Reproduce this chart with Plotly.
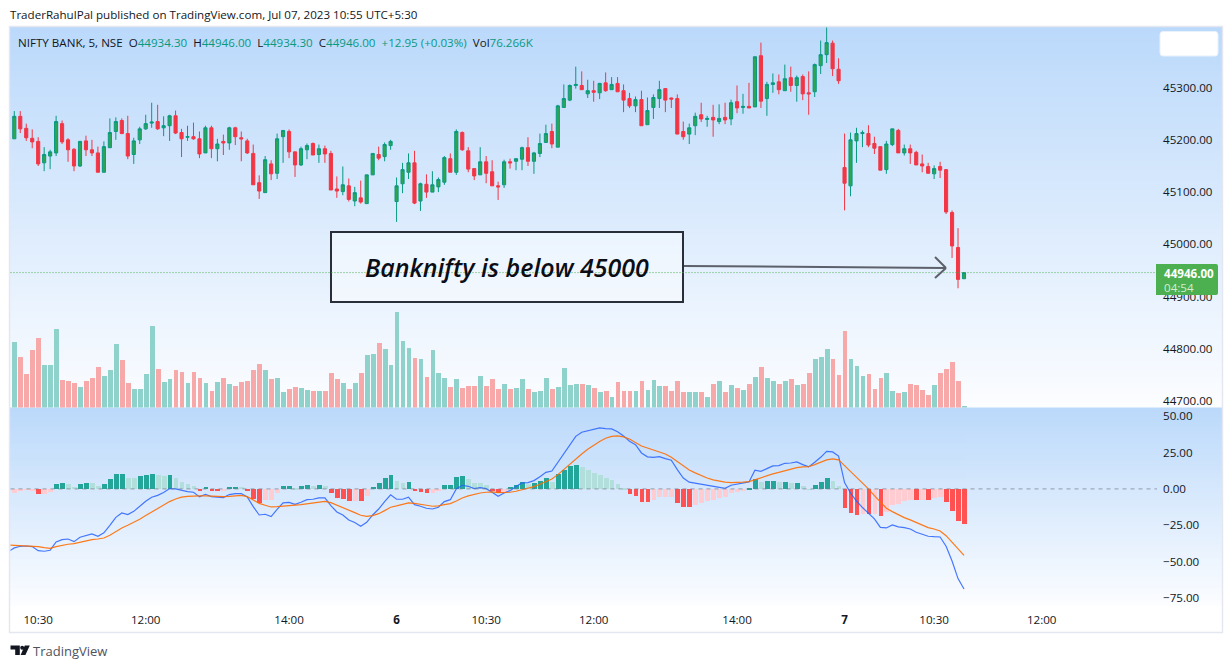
import plotly.graph_objects as go

# ---- data (bar index -1 is the partly hidden bar at the left edge) ----
bar_index = list(range(-1, 160))
direction = ("R"
    "GRRRRGGGRR" "RGRRRGGGRR" "GGGGRGGRRG" "RRGRGRGRRR"
    "RRGRGGRRGG" "RGRRRGRGRG" "GRGGGGGRGR" "GGGRGRRRGR"
    "RRGRGGRGGG" "RGGGGRGRGR" "GRRRGRGGGR" "RRRGGRGRGR"
    "GRGRGRGGRG" "RGRRGGGRRR" "GGGRRRGGRG" "RRRRGRRRRG")
high = [45204,
    45255,45255,45231,45220,45205,45186,45181,45246,45237,45203,
    45184,45198,45208,45200,45187,45197,45241,45243,45241,45246,
    45204,45225,45248,45271,45267,45245,45248,45256,45221,45227,
    45233,45216,45227,45227,45202,45210,45225,45225,45216,45202,
    45191,45132,45169,45161,45212,45218,45220,45177,45187,45193,
    45195,45191,45189,45179,45130,45149,45126,45110,45122,45133,
    45174,45187,45195,45200,45128,45156,45174,45179,45118,45134,
    45140,45128,45169,45174,45220,45216,45186,45145,45186,45169,
    45161,45120,45162,45164,45164,45187,45205,45177,45212,45229,
    45231,45267,45306,45306,45340,45331,45315,45313,45309,45329,
    45320,45320,45306,45290,45283,45294,45281,45287,45313,45298,
    45281,45287,45235,45231,45252,45271,45246,45267,45268,45271,
    45277,45304,45288,45309,45359,45386,45311,45327,45325,45344,
    45340,45323,45325,45331,45346,45390,45415,45390,45356,45212,
    45214,45223,45218,45228,45206,45187,45198,45221,45221,45191,
    45191,45179,45172,45156,45151,45158,45144,45065,45031,44946]
body_high = [45204,
    45245,45245,45222,45203,45197,45172,45177,45235,45231,45200,
    45182,45197,45198,45181,45175,45187,45214,45235,45237,45212,
    45198,45221,45231,45234,45235,45227,45246,45246,45214,45206,
    45206,45202,45223,45223,45192,45197,45223,45223,45204,45198,
    45174,45118,45162,45154,45202,45218,45216,45177,45183,45189,
    45193,45183,45183,45174,45106,45114,45112,45099,45089,45133,
    45174,45172,45191,45197,45112,45143,45156,45156,45116,45115,
    45114,45124,45166,45164,45216,45214,45179,45145,45158,45158,
    45139,45112,45158,45158,45164,45185,45185,45175,45193,45212,
    45216,45265,45279,45304,45306,45304,45294,45294,45308,45309,
    45306,45308,45294,45279,45277,45277,45256,45281,45296,45298,
    45280,45279,45216,45223,45245,45248,45241,45243,45241,45243,
    45271,45273,45264,45264,45359,45361,45306,45309,45311,45317,
    45319,45319,45321,45290,45344,45363,45386,45385,45335,45147,
    45200,45212,45214,45212,45193,45187,45192,45221,45218,45183,
    45183,45176,45154,45149,45145,45149,45143,45061,44994,44946]
body_low = [45202,
    45202,45221,45204,45196,45154,45156,45169,45175,45196,45181,
    45150,45150,45181,45175,45138,45138,45185,45216,45212,45169,
    45172,45200,45221,45232,45221,45223,45227,45213,45202,45205,
    45202,45173,45175,45183,45183,45194,45194,45206,45202,45175,
    45114,45102,45099,45135,45136,45206,45177,45152,45152,45181,
    45171,45172,45173,45104,45102,45101,45086,45083,45081,45078,
    45133,45165,45168,45189,45082,45116,45138,45079,45083,45100,
    45100,45110,45119,45138,45138,45181,45144,45131,45133,45136,
    45112,45110,45114,45156,45159,45163,45159,45159,45174,45195,
    45192,45186,45262,45276,45304,45296,45288,45291,45290,45294,
    45296,45292,45276,45265,45265,45227,45229,45262,45279,45276,
    45278,45211,45206,45211,45227,45240,45239,45238,45235,45238,
    45240,45261,45262,45261,45263,45274,45279,45306,45296,45294,
    45304,45304,45288,45288,45292,45342,45363,45336,45313,45117,
    45112,45198,45212,45190,45184,45142,45143,45191,45175,45175,
    45175,45152,45150,45136,45135,45142,45062,44997,44933,44934]
low = [45198,
    45202,45213,45198,45184,45150,45140,45144,45169,45192,45158,
    45140,45148,45169,45169,45138,45138,45185,45200,45211,45163,
    45154,45192,45219,45223,45219,45207,45198,45211,45167,45198,
    45200,45165,45175,45165,45159,45171,45181,45190,45159,45173,
    45114,45087,45099,45123,45125,45156,45165,45129,45150,45163,
    45171,45156,45156,45104,45089,45094,45082,45073,45078,45078,
    45133,45161,45159,45181,45043,45098,45125,45077,45064,45089,
    45100,45100,45114,45138,45133,45179,45138,45123,45133,45117,
    45112,45085,45108,45145,45142,45142,45150,45135,45167,45195,
    45184,45186,45262,45274,45298,45296,45280,45273,45278,45292,
    45296,45292,45253,45261,45253,45227,45229,45240,45261,45253,
    45261,45211,45200,45192,45209,45234,45225,45206,45230,45230,
    45228,45251,45250,45261,45263,45261,45246,45290,45287,45294,
    45292,45273,45276,45248,45282,45326,45347,45322,45307,45065,
    45092,45156,45186,45186,45173,45142,45135,45188,45175,45170,
    45154,45152,45138,45136,45125,45127,45058,44974,44916,44934]
volume_k = [1829,
    2477,1905,1257,2172,2629,1600,1600,2972,1029,991,
    914,762,991,1105,1524,1181,1410,2400,1791,914,
    686,686,1257,3086,1448,953,1067,1410,1334,914,
    1334,1105,914,610,953,1105,876,800,953,991,
    1410,1638,1410,1067,1105,572,686,762,724,648,
    610,610,610,1295,1067,914,686,914,1295,1981,
    2019,2438,2210,1600,3620,2515,2248,1867,1829,1143,
    2172,1295,1105,762,1067,724,800,800,1181,800,
    1067,686,876,686,724,1067,686,572,610,1105,
    686,762,1486,838,876,876,838,724,572,610,
    381,953,610,610,610,991,648,1029,800,800,
    610,991,572,572,572,572,381,876,991,572,
    838,724,648,876,1143,1524,1105,991,876,991,
    1067,838,876,1295,1829,1905,2210,1829,1219,2896,
    1829,1562,1181,1257,686,1105,1295,610,533,572,
    876,838,648,457,838,1295,1448,1715,991,76]
macd_hist = [-5.7,
    -2.5,-1.1,-0.2,-0.5,-3.2,-3.2,-1.8,3.7,4.3,3.7,
    1.6,3.7,4.3,4.3,2.3,3.7,7.1,10.5,10.5,7.8,
    7.8,9.2,9.8,10.5,9.8,9.2,9.8,7.8,5.0,3.7,
    2.3,-1.1,1.6,-1.1,-1.1,-0.5,1.6,1.6,1.6,-1.1,
    -6.4,-9.2,-7.3,-7.3,-2.5,2.3,2.3,0.9,2.3,3.0,
    2.3,3.0,2.3,-2.5,-6.0,-6.4,-7.8,-7.8,-7.8,-4.6,
    1.6,4.3,7.8,9.8,5.7,4.3,5.0,-1.1,-1.8,-2.5,
    -2.5,-1.1,3.0,3.0,8.5,9.2,7.1,4.3,4.3,3.0,
    -1.1,-2.5,-1.8,1.6,3.0,5.0,3.7,4.3,5.7,7.8,
    5.0,10.5,13.3,16.0,16.7,15.3,13.3,11.2,9.8,7.8,
    6.4,3.7,0.9,-3.2,-4.6,-8.7,-8.7,-7.3,-5.3,-5.3,
    -5.3,-9.4,-12.1,-12.1,-10.8,-9.4,-8.0,-7.3,-6.0,-5.3,
    -2.5,-1.8,-0.5,0.5,7.1,5.0,5.7,5.7,5.0,5.0,
    4.3,4.3,2.3,0.2,3.0,5.0,7.8,5.7,2.3,-12.8,
    -16.3,-17.6,-16.9,-16.9,-16.9,-18.3,-15.6,-10.8,-10.1,-8.0,
    -7.3,-7.3,-7.3,-7.3,-6.0,-5.3,-8.7,-14.9,-21.7,-23.8]
hist_pale_bars = [-1,0,1,2,3,5,6,9,10,13,14,19,20,24,25,27,28,29,30,35,38,42,43,44,47,50,52,57,59,
    64,65,70,71,76,77,78,79,82,86,90,95,96,97,98,99,100,101,102,107,108,109,110,
    114,115,116,117,118,119,120,121,122,125,128,130,132,133,137,138,142,144,
    146,147,148,149,150,152,154,155]
macd_line = [-43.1,
    -40.5,-39.4,-39.2,-39.6,-42.4,-42.8,-42.1,-36.4,-34.8,-34.4,
    -36.2,-33.2,-31.8,-30.9,-32.5,-30.2,-25.0,-19.5,-16.5,-17.6,
    -15.4,-11.7,-8.5,-5.7,-4.4,-2.5,0.2,0.0,-1.2,-1.9,
    -2.3,-5.5,-3.7,-5.3,-5.7,-6.0,-3.9,-3.2,-3.2,-5.5,
    -12.2,-17.9,-17.4,-19.0,-14.0,-9.6,-9.2,-10.6,-9.2,-7.4,
    -7.1,-6.2,-6.2,-11.5,-15.8,-17.9,-21.3,-23.1,-25.7,-22.9,
    -17.9,-13.8,-8.7,-4.1,-7.1,-7.1,-5.7,-10.8,-11.9,-13.3,
    -13.8,-12.6,-8.7,-7.4,0.0,2.5,1.8,0.2,0.9,0.2,
    -2.3,-5.1,-2.8,-1.2,1.6,4.1,4.3,5.7,8.4,11.4,
    12.3,18.3,24.5,30.9,36.1,38.9,40.0,40.7,41.9,41.4,
    41.2,39.3,36.4,32.7,30.4,24.7,22.0,21.7,22.2,20.8,
    19.7,13.2,7.5,4.6,3.9,3.0,2.0,1.3,0.9,0.4,
    2.5,3.4,4.1,4.8,12.8,12.1,13.9,15.8,16.0,17.6,
    17.8,18.5,16.7,15.1,18.3,21.7,25.8,25.4,22.6,4.3,
    -2.8,-8.3,-12.8,-17.0,-20.6,-26.4,-26.8,-24.7,-26.1,-26.6,
    -27.5,-29.8,-31.2,-32.5,-32.8,-33.0,-39.4,-49.5,-61.6,-68.7]
signal_line = [-38.5,
    -38.7,-39.0,-39.0,-39.2,-39.6,-40.3,-40.8,-39.6,-38.7,-38.0,
    -37.6,-36.6,-35.7,-34.8,-34.4,-33.7,-31.8,-29.3,-26.8,-25.0,
    -23.1,-20.9,-18.3,-15.8,-13.3,-11.0,-8.7,-6.9,-5.7,-5.1,
    -4.8,-4.8,-4.8,-5.1,-5.3,-5.3,-5.1,-4.8,-4.4,-5.3,
    -7.6,-9.9,-11.2,-12.4,-12.2,-11.7,-11.5,-11.2,-10.8,-10.1,
    -9.6,-9.2,-8.5,-9.4,-11.0,-12.6,-14.4,-16.3,-18.1,-18.8,
    -18.3,-17.0,-14.9,-12.6,-11.7,-10.6,-9.6,-9.9,-10.3,-11.2,
    -11.9,-11.7,-10.8,-10.1,-8.3,-6.2,-4.8,-3.7,-2.8,-2.3,
    -2.1,-2.5,-2.5,-2.3,-1.6,-0.7,0.4,1.6,3.2,5.2,
    6.8,9.8,13.5,17.1,20.6,24.0,27.2,30.0,32.5,34.8,
    36.1,36.4,35.7,34.3,32.0,29.5,28.1,26.8,25.6,24.0,
    21.7,19.0,15.8,13.0,11.0,9.1,7.5,6.2,5.2,4.6,
    4.3,4.3,4.6,5.0,6.4,7.5,8.9,10.3,11.4,12.6,
    13.5,14.6,15.1,15.3,16.7,18.3,19.9,20.6,19.9,16.0,
    12.1,8.0,3.6,0.0,-4.6,-9.2,-13.3,-15.6,-17.9,-19.7,
    -21.3,-23.1,-24.7,-26.6,-27.5,-28.9,-32.1,-36.7,-41.0,-45.6]
time_tick_bars = [4, 22, 46, 64, 79, 97, 121, 139, 154, 172]
time_tick_text = ["10:30", "12:00", "14:00", "<b>6</b>", "10:30", "12:00", "14:00", "<b>7</b>", "10:30", "12:00"]
price_ticks = [44700, 44800, 44900, 45000, 45100, 45200, 45300]
macd_ticks = [-75, -50, -25, 0, 25, 50]
last_price = 44946

# ---- page geometry, in pixels ----
W, H = 1232, 668
FONT = "Open Sans"
FS = 11.6
def px(x): return x / W
def py(y): return 1 - y / H
PANE_L, PANE_R, FULL_R = 10.5, 1157, 1222
MAIN_T, MAIN_B, SUB_T, SUB_B, FRAME_B = 27, 407.5, 407.5, 606, 632.5
BAR0_X, BAR_STEP = 14.3, 5.973
x_range = [(PANE_L - BAR0_X) / BAR_STEP, (PANE_R - BAR0_X) / BAR_STEP]

opens = [bl if d == "G" else bh for d, bl, bh in zip(direction, body_low, body_high)]
closes = [bh if d == "G" else bl for d, bl, bh in zip(direction, body_low, body_high)]
opens[-1], closes[-1] = 44934.30, 44946.00

fig = go.Figure()
fig.add_trace(go.Candlestick(
    x=bar_index, open=opens, high=high, low=low, close=closes, xaxis="x", yaxis="y",
    increasing=dict(line=dict(color="#089981", width=1), fillcolor="#2fa551"),
    decreasing=dict(line=dict(color="#f23645", width=1), fillcolor="#f23645"),
    whiskerwidth=0, showlegend=False, hoverinfo="skip"))
fig.add_trace(go.Bar(
    x=bar_index, y=volume_k, xaxis="x", yaxis="y3", width=0.8,
    marker=dict(color=["#8fd2cb" if d == "G" else "#f7a8a8" for d in direction], line_width=0),
    showlegend=False, hoverinfo="skip"))
pale = set(hist_pale_bars)
def hist_colour(i, v):
    if v >= 0:
        return "#b2dfdb" if i in pale else "#26a69a"
    return "#ffcdd2" if i in pale else "#ff5252"
fig.add_trace(go.Bar(
    x=bar_index, y=macd_hist, xaxis="x2", yaxis="y2", width=0.8,
    marker=dict(color=[hist_colour(i, v) for i, v in zip(bar_index, macd_hist)], line_width=0),
    showlegend=False, hoverinfo="skip"))
fig.add_trace(go.Scatter(x=bar_index, y=macd_line, mode="lines", xaxis="x2", yaxis="y2",
    line=dict(color="#2962ff", width=1.2), opacity=0.85, showlegend=False, hoverinfo="skip"))
fig.add_trace(go.Scatter(x=bar_index, y=signal_line, mode="lines", xaxis="x2", yaxis="y2",
    line=dict(color="#ff6d00", width=1.2), opacity=0.9, showlegend=False, hoverinfo="skip"))

# ---- background and decorations ----
shapes = []
def lerp(a, b, t): return tuple(round(p + (q - p) * t) for p, q in zip(a, b))
TOP_C, BOT_C = (187, 217, 251), (252, 253, 255)
def gradient(top, bottom, step=2):
    y = top
    while y < bottom:
        c = lerp(TOP_C, BOT_C, (y - top) / (bottom - top))
        shapes.append(dict(type="rect", xref="paper", yref="paper", layer="below",
                           x0=px(PANE_L - 0.5), x1=px(FULL_R), y0=py(min(y + step + 0.5, bottom)), y1=py(y),
                           fillcolor=f"rgb{c}", line_width=0))
        y += step
gradient(MAIN_T, MAIN_B)
gradient(SUB_T, SUB_B)
shapes.append(dict(type="rect", xref="paper", yref="paper", layer="below",
                   x0=px(9.5), x1=px(FULL_R + 0.5), y0=py(FRAME_B), y1=py(26.5),
                   line=dict(color="#e4e7ef", width=1.4)))
# text box, then the price line that runs across it
shapes.append(dict(type="rect", xref="paper", yref="paper", x0=px(331), x1=px(683), y0=py(302), y1=py(232),
                   fillcolor="rgba(255,255,255,0.42)", line=dict(color="#2a2e39", width=2), layer="above"))
shapes.append(dict(type="line", xref="paper", yref="y", x0=px(PANE_L), x1=px(PANE_R), y0=last_price, y1=last_price,
                   line=dict(color="#4caf50", width=1, dash="1px,2px"), layer="above"))
shapes.append(dict(type="line", xref="paper", yref="y2", x0=px(PANE_L), x1=px(PANE_R), y0=0, y1=0,
                   line=dict(color="rgba(120,123,134,0.7)", width=1, dash="4px,4px"), layer="above"))
def rounded(x0, y0, x1, y1, r, left=True):
    rl = r if left else 0
    return (f"M {px(x0+rl)} {py(y0)} L {px(x1-r)} {py(y0)} Q {px(x1)} {py(y0)} {px(x1)} {py(y0+r)} "
            f"L {px(x1)} {py(y1-r)} Q {px(x1)} {py(y1)} {px(x1-r)} {py(y1)} L {px(x0+rl)} {py(y1)} "
            + (f"Q {px(x0)} {py(y1)} {px(x0)} {py(y1-r)} L {px(x0)} {py(y0+r)} Q {px(x0)} {py(y0)} {px(x0+r)} {py(y0)} " if left
               else f"L {px(x0)} {py(y1)} L {px(x0)} {py(y0)} ") + "Z")
shapes.append(dict(type="path", xref="paper", yref="paper", path=rounded(1160, 31.5, 1218, 56, 3),
                   fillcolor="#ffffff", line=dict(color="#e9f1fb", width=1), layer="above"))
shapes.append(dict(type="path", xref="paper", yref="paper", path=rounded(1156, 264, 1218, 295, 2, left=False),
                   fillcolor="#4caf50", line_width=0, layer="above"))
ARROW = "#5d606b"
for (a, b, c, d) in [(684, 266, 946, 268), (935, 257, 946, 268), (935, 278, 946, 268)]:
    shapes.append(dict(type="line", xref="paper", yref="paper", x0=px(a), y0=py(b), x1=px(c), y1=py(d),
                       line=dict(color=ARROW, width=2), layer="above"))
# TradingView logo
def poly(points): return "M " + " L ".join(f"{px(x)} {py(y)}" for x, y in points) + " Z"
LOGO = "#131722"
for pts in ([(10.5, 645.5), (19.8, 645.5), (19.8, 655), (15.2, 655), (15.2, 649.5), (10.5, 649.5)],
            [(24.8, 645.5), (29.8, 645.5), (25.4, 655), (20.6, 655)]):
    shapes.append(dict(type="path", xref="paper", yref="paper", path=poly(pts), fillcolor=LOGO, line_width=0, layer="above"))
shapes.append(dict(type="circle", xref="paper", yref="paper", x0=px(20.2), x1=px(24.2), y0=py(649.7), y1=py(645.7),
                   fillcolor=LOGO, line_width=0, layer="above"))

# ---- texts ----
TEAL = "#089981"
def val(s): return f'<span style="color:{TEAL}">{s}</span>'
legend_text = ("NIFTY BANK, 5, NSE  O" + val("44934.30") + "  H" + val("44946.00") + "  L" + val("44934.30") +
               "  C" + val("44946.00") + "  " + val("+12.95 (+0.03%)") + "  Vol" + val("76.266K"))
def note(x, y, text, size=FS, color="#131722", anchor="left", family=FONT, **fontkw):
    return dict(xref="paper", yref="paper", x=px(x), y=py(y), text=text, showarrow=False, xanchor=anchor, yanchor="middle",
                font=dict(family=family, size=size, color=color, **fontkw), borderpad=0, borderwidth=0)
annotations = [
    note(10, 14, "TraderRahulPal published on TradingView.com, Jul 07, 2023 10:55 UTC+5:30"),
    note(18, 42, legend_text),
    note(33, 650.5, "TradingView", size=13, color="#50535e"),
    note(507, 266.5, "Banknifty is below 45000", size=25, anchor="center", color="#0b0e14", style="italic", weight=600),
    note(1164, 273, "<b>44946.00</b>", color="#ffffff"),
    note(1164, 287, "04:54", color="#d3edd5"),
]

axis_font = dict(family=FONT, size=FS, color="#131722")
fig.update_layout(
    width=W, height=H, autosize=False, margin=dict(l=0, r=0, t=0, b=0, pad=0),
    paper_bgcolor="#ffffff", plot_bgcolor="rgba(0,0,0,0)", barmode="overlay", bargap=0, boxgap=0.25,
    showlegend=False, shapes=shapes, annotations=annotations, font=dict(family=FONT),
    xaxis=dict(domain=[px(PANE_L), px(PANE_R)], range=x_range, anchor="y", showgrid=False, zeroline=False,
               showticklabels=False, ticks="", rangeslider=dict(visible=False), showline=False),
    xaxis2=dict(domain=[px(PANE_L), px(PANE_R)], range=x_range, anchor="y2", showgrid=False, zeroline=False,
                tickmode="array", tickvals=time_tick_bars, ticktext=time_tick_text, ticks="",
                tickfont=axis_font, showline=False, ticklabelstandoff=5),
    yaxis=dict(domain=[py(MAIN_B), py(MAIN_T)], range=[44687.9, 45415.9], side="right", anchor="x",
               showgrid=False, zeroline=False, tickmode="array", tickvals=price_ticks,
               ticktext=[f"{v:.2f}" for v in price_ticks], ticks="", tickfont=axis_font, ticklabelstandoff=5),
    yaxis3=dict(domain=[py(MAIN_B), py(MAIN_T)], range=[0, 14478], overlaying="y", side="left", anchor="x",
                showgrid=False, zeroline=False, showticklabels=False, ticks=""),
    yaxis2=dict(domain=[py(SUB_B), py(SUB_T)], range=[-80.4, 55.9], side="right", anchor="x2",
                showgrid=False, zeroline=False, tickmode="array", tickvals=macd_ticks,
                ticktext=[("\u2212" + f"{abs(v):.2f}") if v < 0 else f"{v:.2f}" for v in macd_ticks],
                ticks="", tickfont=axis_font, ticklabelstandoff=5),
)

fig.write_html("out.html", config=dict(displayModeBar=False),
               post_script="document.body.style.margin='0';document.body.style.overflow='hidden';")
